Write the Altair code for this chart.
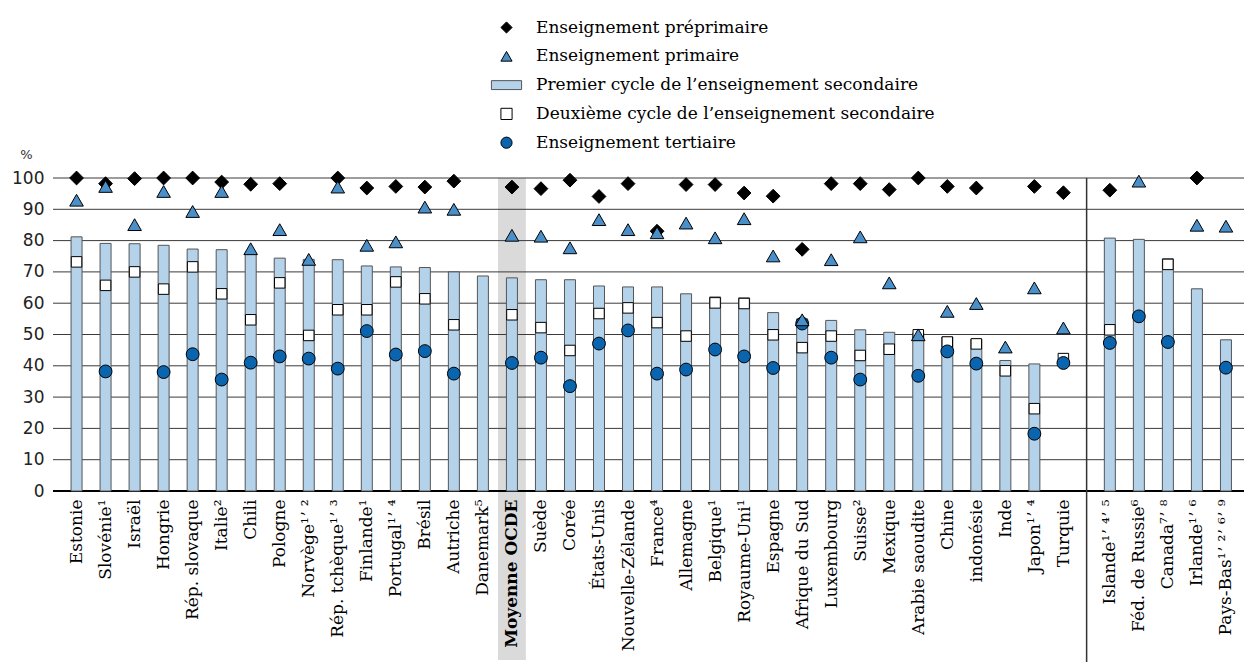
import json
import altair as alt
import pandas as pd

pays = ["Estonie", "Slovénie¹", "Israël", "Hongrie", "Rép. slovaque", "Italie²", "Chili", "Pologne",
        "Norvège¹ʼ ²", "Rép. tchèque¹ʼ ³", "Finlande¹", "Portugal¹ʼ ⁴", "Brésil", "Autriche", "Danemark⁵",
        "Moyenne OCDE", "Suède", "Corée", "États-Unis", "Nouvelle-Zélande", "France⁴", "Allemagne",
        "Belgique¹", "Royaume-Uni¹", "Espagne", "Afrique du Sud", "Luxembourg", "Suisse²", "Mexique",
        "Arabie saoudite", "Chine", "indonésie", "Inde", "Japon¹ʼ ⁴", "Turquie",
        "Islande¹ʼ ⁴ʼ ⁵", "Féd. de Russie⁶", "Canada⁷ʼ ⁸", "Irlande¹ʼ ⁶", "Pays-Bas¹ʼ ²ʼ ⁶ʼ ⁹"]
n_gauche = 35  # pays à gauche du séparateur

prepri = [100, 98.2, 99.8, 100, 100, 98.7, 98.0, 98.2, None, 100, 96.8, 97.3, 97.1, 99.0, None,
          97.1, 96.6, 99.3, 94.1, 98.2, 83.0, 97.9, 97.9, 95.2, 94.2, 77.2, 98.2, 98.2, 96.3, 100,
          97.3, 96.8, None, 97.3, 95.3, 96.1, None, None, 100, None]
primaire = [92.9, 97.3, 85.1, 95.7, 89.3, 95.7, 77.4, 83.5, 74.0, 97.1, 78.5, 79.6, 90.7, 90.0, None,
            81.7, 81.4, 77.7, 86.7, 83.5, 82.5, 85.6, 80.9, 87.0, 75.1, 54.7, 73.9, 81.2, 66.5, 49.9,
            57.4, 59.9, 46.0, 64.9, 52.1, None, 99.0, None, 84.9, 84.6]
premier = [81.2, 79.1, 79.0, 78.5, 77.3, 77.1, 76.0, 74.4, 74.0, 73.9, 71.9, 71.6, 71.4, 70.0, 68.7,
           68.1, 67.5, 67.5, 65.5, 65.2, 65.2, 63.0, 62.0, 61.7, 57.0, 55.0, 54.5, 51.5, 50.7, 50.5,
           49.2, 48.5, 41.7, 40.6, None, 80.8, 80.4, 74.2, 64.6, 48.3]
deuxieme = [73.2, 65.7, 70.0, 64.5, 71.6, 63.0, 54.7, 66.5, 49.7, 57.9, 57.9, 66.8, 61.4, 53.1, None,
            56.3, 52.2, 44.9, 56.7, 58.5, 53.8, 49.5, 60.1, 59.9, 49.9, 45.8, 49.5, 43.3, 45.3, 49.9,
            47.6, 47.0, 38.4, 26.3, 42.3, 51.5, None, 72.4, None, None]
tertiaire = [None, 38.2, None, 38.0, 43.7, 35.6, 41.0, 43.0, 42.3, 39.1, 51.1, 43.6, 44.7, 37.5, None,
             40.9, 42.6, 33.5, 47.1, 51.3, 37.5, 38.8, 45.2, 43.0, 39.3, 53.5, 42.6, 35.6, None, 36.8,
             44.6, 40.7, None, 18.3, 40.9, 47.3, 55.8, 47.6, None, 39.4]

series = ["Enseignement préprimaire", "Enseignement primaire",
          "Premier cycle de l’enseignement secondaire",
          "Deuxième cycle de l’enseignement secondaire", "Enseignement tertiaire"]
graduations = [0, 10, 20, 30, 40, 50, 60, 70, 80, 90, 100]

couleurs = ["#000000", "#4a8fc8", "#b4d2ea", "#ffffff", "#0a64ae"]
contours = ["#000000", "#000000", "#555555", "#000000", "#000000"]
formes = ["diamond", "triangle-up", "M-2.7,-0.8H2.7V0.8H-2.7Z", "square", "circle"]

# layout
W, H = 1191, 313
ECART = 0.6
pos = [i if i < n_gauche else i + ECART for i in range(len(pays))]
sep_x = (pos[n_gauche - 1] + pos[n_gauche]) / 2
i_ocde = pays.index("Moyenne OCDE")

rows = []
for s, vals in zip(series, [prepri, primaire, premier, deuxieme, tertiaire]):
    for p, x, v in zip(pays, pos, vals):
        if v is not None:
            rows.append({"pays": p, "pos": x, "serie": s, "valeur": v})
df = pd.DataFrame(rows)

FONT_SERIF = "DejaVu Serif"
label_expr = json.dumps(pays, ensure_ascii=False) + "[floor(datum.value + 0.001)]"

AX = alt.Axis(values=pos, labelExpr=label_expr, labelAngle=-90, grid=False, ticks=False,
              domain=False, labelPadding=8, labelFont=FONT_SERIF, labelFontSize=17,
              labelColor="black", title=None, labelOverlap=False, labelFlush=False,
              labelBound=False, zindex=1,
              labelFontWeight={"expr": f"floor(datum.value + 0.001) == {i_ocde} ? 'bold' : 'normal'"})
AY = alt.Axis(values=graduations, grid=False, ticks=False, domain=False, labelPadding=9,
              labelFont="DejaVu Sans", labelFontSize=17, labelColor="#222",
              title="%", titleAngle=0, titleX=-27, titleY=-24, titleFont="DejaVu Sans",
              titleFontSize=13, titleFontWeight="normal", titleColor="#333",
              titleAlign="center", titleBaseline="middle")
XS = alt.Scale(domain=[-0.639, 40.05], nice=False, zero=False)
YS = alt.Scale(domain=[0, 100], nice=False)


def xs(field):
    return alt.X(f"{field}:Q", scale=XS, axis=AX, title=None)


def ys(field):
    return alt.Y(f"{field}:Q", scale=YS, axis=AY, title="%")


LEG = alt.Legend(title=None, orient="none", legendX=445, legendY=-159, direction="vertical",
                 symbolSize=125, symbolStrokeWidth=1, symbolOpacity=1,
                 labelFont=FONT_SERIF, labelFontSize=17, labelColor="black", labelOffset=21,
                 rowPadding=10.8, padding=0, labelLimit=600)
FILL = alt.Fill("serie:N", scale=alt.Scale(domain=series, range=couleurs), legend=LEG)
STROKE = alt.Stroke("serie:N", scale=alt.Scale(domain=series, range=contours), legend=LEG)
SHAPE = alt.Shape("serie:N", scale=alt.Scale(domain=series, range=formes), legend=LEG)

band_df = pd.DataFrame({"x0": [pos[i_ocde] - 0.48], "x1": [pos[i_ocde] + 0.48]})
bande = alt.Chart(band_df).mark_rect(color="#dadada").encode(
    x=xs("x0"), x2="x1:Q", y=alt.value(0), y2=alt.value(482))

grid_df = pd.DataFrame({"valeur": graduations})
grille = alt.Chart(grid_df).mark_rule().encode(
    y=ys("valeur"), x=alt.value(0), x2=alt.value(W),
    color=alt.condition(alt.datum.valeur == 0, alt.value("black"), alt.value("#3a3a3a")),
    strokeWidth=alt.condition(alt.datum.valeur == 0, alt.value(1.8), alt.value(1)))

sep_df = pd.DataFrame({"x": [sep_x]})
separateur = alt.Chart(sep_df).mark_rule(color="#333", strokeWidth=1.5).encode(
    x=xs("x"), y=alt.value(0), y2=alt.value(484))

base = alt.Chart(df)
barres = base.transform_filter(alt.datum.serie == series[2]).mark_bar(
    width=11, strokeWidth=1, orient="vertical").encode(
    x=xs("pos"), y=ys("valeur"), fill=FILL, stroke=STROKE)


def points(s, size):
    return base.transform_filter(alt.datum.serie == s).mark_point(
        filled=True, opacity=1, size=size, strokeWidth=1).encode(
        x=xs("pos"), y=ys("valeur"), fill=FILL, stroke=STROKE, shape=SHAPE)


carres = points(series[3], 110)
cercles = points(series[4], 165)
losanges = points(series[0], 190)
triangles = points(series[1], 185)

chart = alt.layer(bande, grille, separateur, barres, carres, cercles, losanges, triangles).properties(
    width=W, height=H,
    autosize=alt.AutoSizeParams(type="none"),
    padding={"left": 45, "top": 170, "right": 0, "bottom": 171},
    background="white",
).configure_view(stroke=None)

chart.save("out.html", embed_options={"renderer": "svg", "actions": False})
